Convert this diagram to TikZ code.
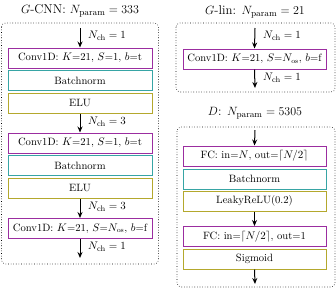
\documentclass[tikz,border=0pt]{standalone}
\usepackage{amsmath}
\usetikzlibrary{arrows.meta}
\definecolor{cpurple}{RGB}{155,45,160}
\definecolor{cteal}{RGB}{55,165,165}
\definecolor{colive}{RGB}{180,168,45}
\tikzset{
  blk/.style={draw, line width=1pt, minimum width=144pt, minimum height=20pt, inner sep=0pt, font=\fontsize{10.6}{12.5}\selectfont},
  convbox/.style={blk, draw=cpurple},
  normbox/.style={blk, draw=cteal},
  actbox/.style={blk, draw=colive},
  group/.style={draw, dotted, line width=0.6pt, rounded corners=4pt},
  flow/.style={-{Stealth[length=6pt,width=5pt]}, line width=1pt},
  chlab/.style={anchor=west, inner sep=0pt, font=\fontsize{11}{13}\selectfont},
  ttl/.style={inner sep=0pt, font=\fontsize{12.8}{15}\selectfont}
}
\begin{document}
\begin{tikzpicture}[x=1pt,y=-1pt]
\useasboundingbox (0,0) rectangle (336,293);
% left panel
\node[ttl] (t1) at (80,11) {$G$-CNN: $N_{\mathrm{param}}=333$};
\draw[group] (1.5,23) rectangle (158.5,264);
\coordinate (l0) at (80,28);
\node[convbox] (c1) at (80,58) {Conv1D: $K$=21, $S$=1, $b$=t};
\node[normbox] (b1) at (80,80.5) {Batchnorm};
\node[actbox] (e1) at (80,103) {ELU};
\node[convbox] (c2) at (80,143) {Conv1D: $K$=21, $S$=1, $b$=t};
\node[normbox] (b2) at (80,165.5) {Batchnorm};
\node[actbox] (e2) at (80,188) {ELU};
\node[convbox] (c3) at (80,228.5) {Conv1D: $K$=21, $S$=$N_{\mathrm{os}}$, $b$=f};
\coordinate (l1) at (80,258);
\draw[flow] (l0) -- (c1.north);
\draw[flow] (e1.south) -- (c2.north);
\draw[flow] (e2.south) -- (c3.north);
\draw[flow] (c3.south) -- (l1);
\node[chlab] (n1) at (88,36) {$N_{\mathrm{ch}}=1$};
\node[chlab] (n2) at (88,122) {$N_{\mathrm{ch}}=3$};
\node[chlab] (n3) at (88,207) {$N_{\mathrm{ch}}=3$};
\node[chlab] (n4) at (88,247) {$N_{\mathrm{ch}}=1$};
% right top
\node[ttl] (t2) at (255,12) {$G$-lin: $N_{\mathrm{param}}=21$};
\draw[group] (176,23) rectangle (335,92);
\coordinate (r0) at (255,28);
\node[convbox, draw=cpurple, minimum width=143pt] (g1) at (254.5,59) {Conv1D: $K$=21, $S$=$N_{\mathrm{os}}$, $b$=f};
\coordinate (r1) at (255,88);
\draw[flow] (r0) -- (g1.north);
\draw[flow] (g1.south) -- (r1);
\node[chlab] (n5) at (263,36) {$N_{\mathrm{ch}}=1$};
\node[chlab] (n6) at (263,78) {$N_{\mathrm{ch}}=1$};
% right bottom
\node[ttl] (t3) at (255,113) {$D$: $N_{\mathrm{param}}=5305$};
\draw[group] (177,127) rectangle (335,287);
\coordinate (d0) at (255,130);
\node[convbox, minimum width=143pt] (f1) at (254.5,156) {FC: in=$N$, out=$\lceil N/2\rceil$};
\node[normbox, minimum width=143pt] (f2) at (254.5,179) {Batchnorm};
\node[actbox, minimum width=143pt] (f3) at (254.5,201) {LeakyReLU(0.2)};
\node[convbox, minimum width=143pt] (f4) at (254.5,236.5) {FC: in=$\lceil N/2\rceil$, out=1};
\node[actbox, minimum width=143pt] (f5) at (254.5,259) {Sigmoid};
\coordinate (d1) at (255,284);
\draw[flow] (d0) -- (f1.north);
\draw[flow] (f3.south) -- (f4.north);
\draw[flow] (f5.south) -- (d1);
\end{tikzpicture}
\end{document}
